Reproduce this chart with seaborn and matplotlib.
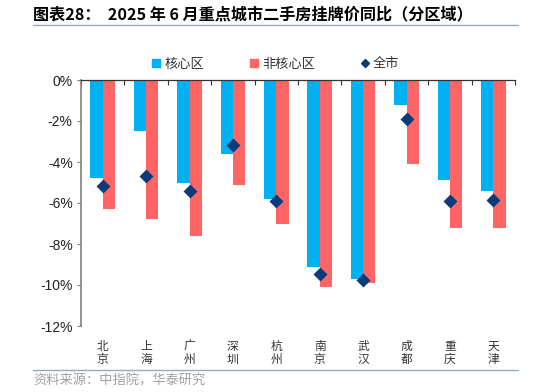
import pandas as pd
import numpy as np
import matplotlib.pyplot as plt
import seaborn as sns
from matplotlib.lines import Line2D
from matplotlib.ticker import FixedLocator

# dados (%)
cidades = ['北京', '上海', '广州', '深圳', '杭州', '南京', '武汉', '成都', '重庆', '天津']
nucleo = [-4.8, -2.5, -5.0, -3.6, -5.8, -9.1, -9.7, -1.2, -4.9, -5.4]
nao_nucleo = [-6.3, -6.8, -7.6, -5.1, -7.0, -10.1, -9.9, -4.1, -7.2, -7.2]
cidade_toda = [-5.15, -4.7, -5.4, -3.15, -5.9, -9.45, -9.75, -1.9, -5.9, -5.85]
series = ['核心区', '非核心区']

cor_azul = '#00B0F0'
cor_vermelho = '#FF6565'
cor_losango = '#0D3B7A'

sns.set_theme(style='white')
plt.rcParams['font.family'] = ['Noto Sans CJK SC', 'DejaVu Sans']

df = pd.DataFrame({
    'cidade': cidades * 2,
    'serie': [series[0]] * len(cidades) + [series[1]] * len(cidades),
    'valor': nucleo + nao_nucleo,
})

fig = plt.figure(figsize=(5.34, 3.92), dpi=100)
ax = fig.add_axes([81 / 534, 1 - 326 / 392, (515 - 81) / 534, (326 - 80) / 392])

sns.barplot(data=df, x='cidade', y='valor', hue='serie', hue_order=series,
            palette=[cor_azul, cor_vermelho], saturation=1, width=0.565, gap=0,
            linewidth=0, legend=False, ax=ax, order=cidades)
sns.pointplot(x=cidades, y=cidade_toda, order=cidades, color=cor_losango,
              markers='D', linestyle='none', markersize=4.6, errorbar=None, ax=ax)

ax.set_ylim(-12, 0)
ax.set_xlim(-0.5, len(cidades) - 0.5)
ax.set_xlabel('')
ax.set_ylabel('')

# eixo y
ax.set_yticks(np.arange(-12, 1, 2))
ax.set_yticklabels([f'{v}%' for v in range(-12, 1, 2)], family=['Liberation Sans'],
                   fontsize=10, color='#222222')
ax.tick_params(axis='y', direction='out', length=3, width=0.8, color='#808080', pad=3, left=True)

# eixo x: rotulos verticais embaixo, marcas entre categorias na linha do zero
ax.set_xticks(range(len(cidades)))
ax.set_xticklabels(['\n'.join(c) for c in cidades], fontsize=8.5, color='#333333',
                   linespacing=1.0)
ax.tick_params(axis='x', length=0, pad=10, bottom=False, top=False)
ax.xaxis.set_minor_locator(FixedLocator(np.arange(-0.5, len(cidades), 1)))
ax.tick_params(axis='x', which='minor', top=True, bottom=False, direction='in',
               length=3.5, width=0.8, color='#333333')

for lado in ['right', 'bottom']:
    ax.spines[lado].set_visible(False)
ax.spines['top'].set_color('#333333')
ax.spines['top'].set_linewidth(0.9)
ax.spines['left'].set_color('#808080')
ax.spines['left'].set_linewidth(1.2)

# legenda
handles = [
    Line2D([], [], marker='s', linestyle='none', color=cor_azul, markersize=5.5),
    Line2D([], [], marker='s', linestyle='none', color=cor_vermelho, markersize=5.5),
    Line2D([], [], marker='D', linestyle='none', color=cor_losango, markersize=4.5),
]
fig.legend(handles, ['核心区', '非核心区', '全市'], loc='center',
           bbox_to_anchor=(276 / 534, 1 - 64 / 392), ncol=3, frameon=False,
           fontsize=9.5, handlelength=0.6, handletextpad=0.3, columnspacing=3.5,
           labelcolor='#333333')

# titulo, linhas e fonte
fig.text(33 / 534, 1 - 14 / 392, '图表28：  2025 年 6 月重点城市二手房挂牌价同比（分区域）',
         fontsize=11.6, fontweight='bold', color='black', va='center', ha='left')
fig.add_artist(Line2D([33 / 534, 518 / 534], [1 - 24.5 / 392] * 2, color='#8FAACB', lw=1))
fig.add_artist(Line2D([33 / 534, 518 / 534], [1 - 370 / 392] * 2, color='#8FAACB', lw=1))
fig.text(33 / 534, 1 - 381 / 392, '资料来源：中指院，华泰研究', fontsize=9.5,
         color='#A0A0A0', va='center', ha='left')

fig.savefig('out.png', dpi=100)
plt.close(fig)
